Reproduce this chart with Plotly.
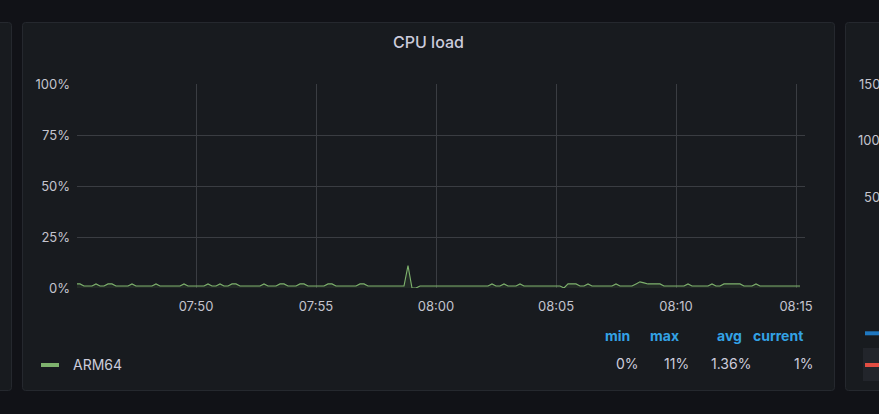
import plotly.graph_objects as go
import pandas as pd

# ---------------- data ----------------
cpu_load = [
    2, 2, 1, 1, 1, 2, 1, 1, 2, 2,
    1, 1, 1, 1, 2, 1, 1, 1, 1, 1,
    2, 1, 1, 1, 1, 1, 1, 2, 1, 1,
    1, 1, 1, 2, 1, 1, 2, 1, 1, 2,
    2, 1, 1, 1, 1, 1, 1, 2, 1, 1,
    1, 2, 2, 1, 1, 1, 2, 2, 1, 1,
    1, 1, 1, 2, 2, 1, 1, 1, 1, 1,
    1, 2, 2, 1, 1, 1, 1, 1, 1, 1,
    1, 1, 1, 11, 0, 0, 1, 1, 1, 1,
    1, 1, 1, 1, 1, 1, 1, 1, 1, 1,
    1, 1, 1, 1, 2, 1, 1, 2, 1, 1,
    1, 2, 1, 1, 1, 1, 1, 1, 1, 1,
    1, 1, 0, 2, 2, 2, 1, 1, 2, 1,
    1, 1, 1, 1, 1, 2, 1, 1, 1, 1,
    2, 3, 2.5, 2, 2, 2, 2, 1, 1, 1,
    1, 1, 1, 2, 1, 1, 1, 1, 1, 2,
    1, 1, 2, 2, 2, 2, 2, 1, 1, 1,
    2, 1, 1, 1, 1, 1, 1, 1, 1, 1,
    1, 1,
]
start_time = "2024-01-01 07:45:00"
sample_step = "10s"
times = pd.date_range(start_time, periods=len(cpu_load), freq=sample_step)

x_range = ["2024-01-01 07:45:02.5", "2024-01-01 08:15:22.5"]
y_ticks = [0, 25, 50, 75, 100]
y_tick_text = ["0%", "25%", "50%", "75%", "100%"]

series_name = "ARM64"
stat_headers = ["min", "max", "avg", "current"]
stat_values = ["0%", "11%", "1.36%", "1%"]
right_panel_ticks = ["150", "100", "50"]

# ---------------- geometry helpers ----------------
W, H = 879, 414
def px(x):
    return x / W
def py(y):
    return 1 - y / H

def rrect(x0, y0, x1, y1, r=3):
    p = (f"M {px(x0 + r)} {py(y0)} L {px(x1 - r)} {py(y0)} "
         f"Q {px(x1)} {py(y0)} {px(x1)} {py(y0 + r)} "
         f"L {px(x1)} {py(y1 - r)} Q {px(x1)} {py(y1)} {px(x1 - r)} {py(y1)} "
         f"L {px(x0 + r)} {py(y1)} Q {px(x0)} {py(y1)} {px(x0)} {py(y1 - r)} "
         f"L {px(x0)} {py(y0 + r)} Q {px(x0)} {py(y0)} {px(x0 + r)} {py(y0)} Z")
    return p

BG = "#111217"
PANEL = "#181b1f"
BORDER = "#25282e"
TXT = "#ccccdc"
TICK = "#c4c4ce"
GRID = "#3a3d42"
GREEN = "#7eb26d"
BLUE = "#33a2e5"
FONT = "Inter, Roboto, sans-serif"

fig = go.Figure()
fig.add_trace(go.Scatter(
    x=times, y=cpu_load, mode="lines", name=series_name,
    line=dict(color=GREEN, width=1.1),
    fill="tozeroy", fillcolor="rgba(126,178,109,0.10)",
    showlegend=False, hoverinfo="skip",
))

shapes = []
# panels
for (x0, y0, x1, y1) in [(-20, 22.5, 11.5, 390.5), (22.5, 22.5, 834.5, 390.5), (845.5, 22.5, 900, 390.5)]:
    shapes.append(dict(type="path", xref="paper", yref="paper", path=rrect(x0, y0, x1, y1),
                       fillcolor=PANEL, line=dict(color=BORDER, width=1), layer="below"))
# legend swatch
shapes.append(dict(type="line", xref="paper", yref="paper", x0=px(41), x1=px(59), y0=py(365), y1=py(365),
                   line=dict(color=GREEN, width=4)))
# right panel partial legend
shapes.append(dict(type="rect", xref="paper", yref="paper", x0=px(863), x1=px(880), y0=py(348), y1=py(381),
                   fillcolor="#22252b", line=dict(width=0), layer="below"))
shapes.append(dict(type="line", xref="paper", yref="paper", x0=px(865), x1=px(880), y0=py(333.3), y1=py(333.3),
                   line=dict(color="#1f78c1", width=4)))
shapes.append(dict(type="line", xref="paper", yref="paper", x0=px(865), x1=px(880), y0=py(365), y1=py(365),
                   line=dict(color="#e24d42", width=4)))

ann = []
ann.append(dict(text="CPU load", x=px(428), y=py(42), xref="paper", yref="paper", showarrow=False,
                xanchor="center", yanchor="middle", font=dict(family=FONT, size=16, color=TXT, weight=500)))
ann.append(dict(text=series_name, x=px(71), y=py(364), xref="paper", yref="paper", showarrow=False,
                xanchor="left", yanchor="middle", font=dict(family=FONT, size=14, color=TXT)))
header_right = [632, 681, 744, 805]
value_right = [641, 691, 753, 815]
for h, v, hx, vx in zip(stat_headers, stat_values, header_right, value_right):
    ann.append(dict(text=h, x=px(hx), y=py(335), xref="paper", yref="paper", showarrow=False,
                    xanchor="right", yanchor="middle", font=dict(family=FONT, size=14, color=BLUE, weight=700)))
    ann.append(dict(text=v, x=px(vx), y=py(363.5), xref="paper", yref="paper", showarrow=False,
                    xanchor="right", yanchor="middle", font=dict(family=FONT, size=14, color=TXT)))
for t, ty in zip(right_panel_ticks, [84, 140, 197]):
    ann.append(dict(text=t, x=px(882), y=py(ty), xref="paper", yref="paper", showarrow=False,
                    xanchor="right", yanchor="middle", font=dict(family=FONT, size=13, color=TICK)))

fig.update_layout(
    width=W, height=H,
    margin=dict(l=0, r=0, t=0, b=0, pad=0, autoexpand=False),
    paper_bgcolor=BG, plot_bgcolor="rgba(0,0,0,0)",
    shapes=shapes, annotations=ann,
    showlegend=False,
    xaxis=dict(domain=[77 / W, 805 / W], range=x_range, type="date",
               tickformat="%H:%M", dtick=5 * 60 * 1000, tick0="2024-01-01 07:50:00",
               showgrid=True, gridcolor=GRID, gridwidth=1, zeroline=False, showline=False,
               automargin=False,
               ticks="", tickfont=dict(family=FONT, size=13, color=TICK), ticklabelstandoff=9),
    yaxis=dict(domain=[1 - 288 / H, 1 - 84 / H], range=[0, 100],
               tickvals=y_ticks, ticktext=y_tick_text,
               showgrid=True, gridcolor=GRID, gridwidth=1, zeroline=False, showline=False,
               automargin=False,
               ticks="", tickfont=dict(family=FONT, size=13, color=TICK), ticklabelstandoff=6),
)

fig.write_html(
    "out.html",
    config={"displayModeBar": False},
    post_script="document.body.style.margin='0';document.body.style.padding='0';"
                "document.body.style.overflow='hidden';document.body.style.background='#111217';",
)
